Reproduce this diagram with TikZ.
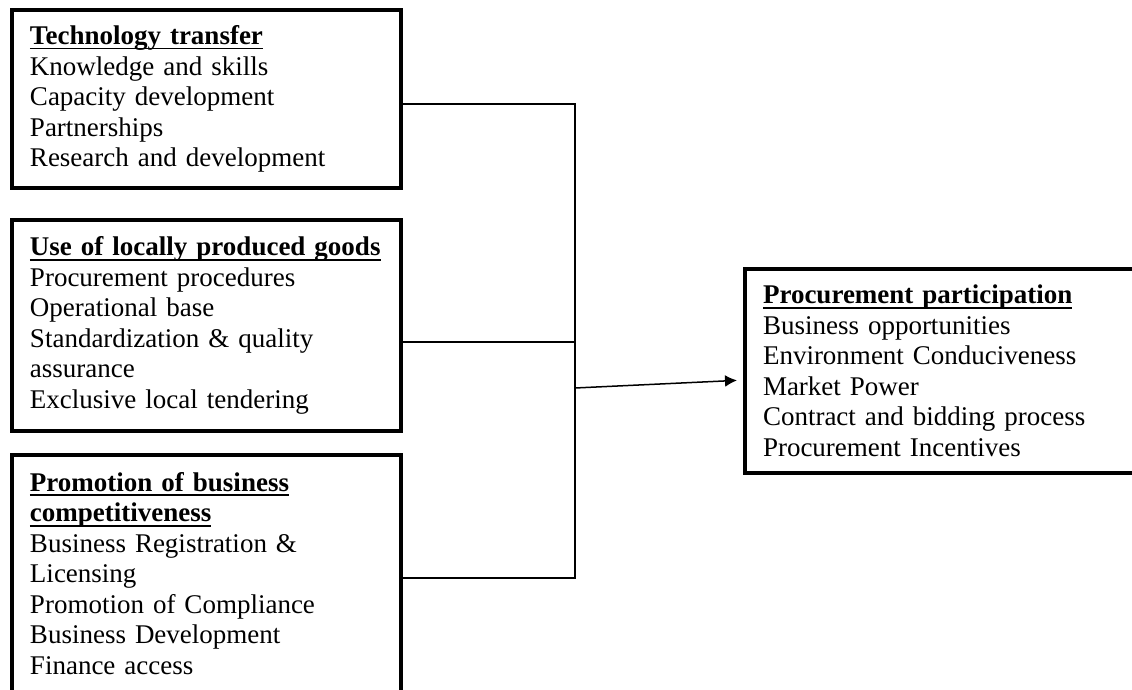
\documentclass[tikz,border=0pt]{standalone}
\usepackage{fontspec}
\setmainfont{Liberation Serif}
\usetikzlibrary{arrows.meta}

\newsavebox{\headbox}
\newcommand{\boxhead}[1]{\leavevmode\sbox{\headbox}{\textbf{#1}}\rlap{\rule[-2.4pt]{\wd\headbox}{0.9pt}}\usebox{\headbox}}

\tikzset{
  factor/.style={draw, line width=2pt, anchor=north west, outer sep=0pt,
    align=left, inner xsep=9pt, inner ysep=0pt, text width=176.5pt,
    font=\fontsize{13.5pt}{15.25pt}\selectfont},
  link/.style={line width=0.75pt},
}

\begin{document}
\begin{tikzpicture}[x=0.5pt, y=-0.5pt]
            \useasboundingbox (0,0) rectangle (1132,690);
            % Independent variables
            \node[factor, minimum height=89pt] (tech) at (12,10) {\boxhead{Technology transfer}\\
              Knowledge and skills\\
              Capacity development\\
              Partnerships\\
              Research and development};
            \node[factor, minimum height=105.5pt] (goods) at (12,220) {\boxhead{Use of locally produced goods}\\
              Procurement procedures\\
              Operational base\\
              Standardization \& quality\\
              assurance\\
              Exclusive local tendering};
            \node[factor, minimum height=118.5pt] (promo) at (12,455) {\boxhead{Promotion of business}\\
              \boxhead{competitiveness}\\
              Business Registration \&\\
              Licensing\\
              Promotion of Compliance\\
              Business Development\\
              Finance access};
            % Dependent variable
            \node[factor, minimum height=102pt] (part) at (745,269) {\boxhead{Procurement participation}\\
              Business opportunities\\
              Environment Conduciveness\\
              Market Power\\
              Contract and bidding process\\
              Procurement Incentives};
            % Joining lines
            \coordinate (j1) at (575,104);
            \coordinate (j2) at (575,342);
            \coordinate (j3) at (575,578);
            \coordinate (j0) at (575,388);
            \draw[link] (tech.east |- j1) -- (j1) -- (j3) -- (promo.east |- j3);
            \draw[link] (goods.east |- j2) -- (j2);
            % Arrow
            \draw[link, -{Latex[length=6pt, width=6pt]}, shorten >=4pt] (j0) -- ([yshift=-4.5pt]part.west);
\end{tikzpicture}
\end{document}
